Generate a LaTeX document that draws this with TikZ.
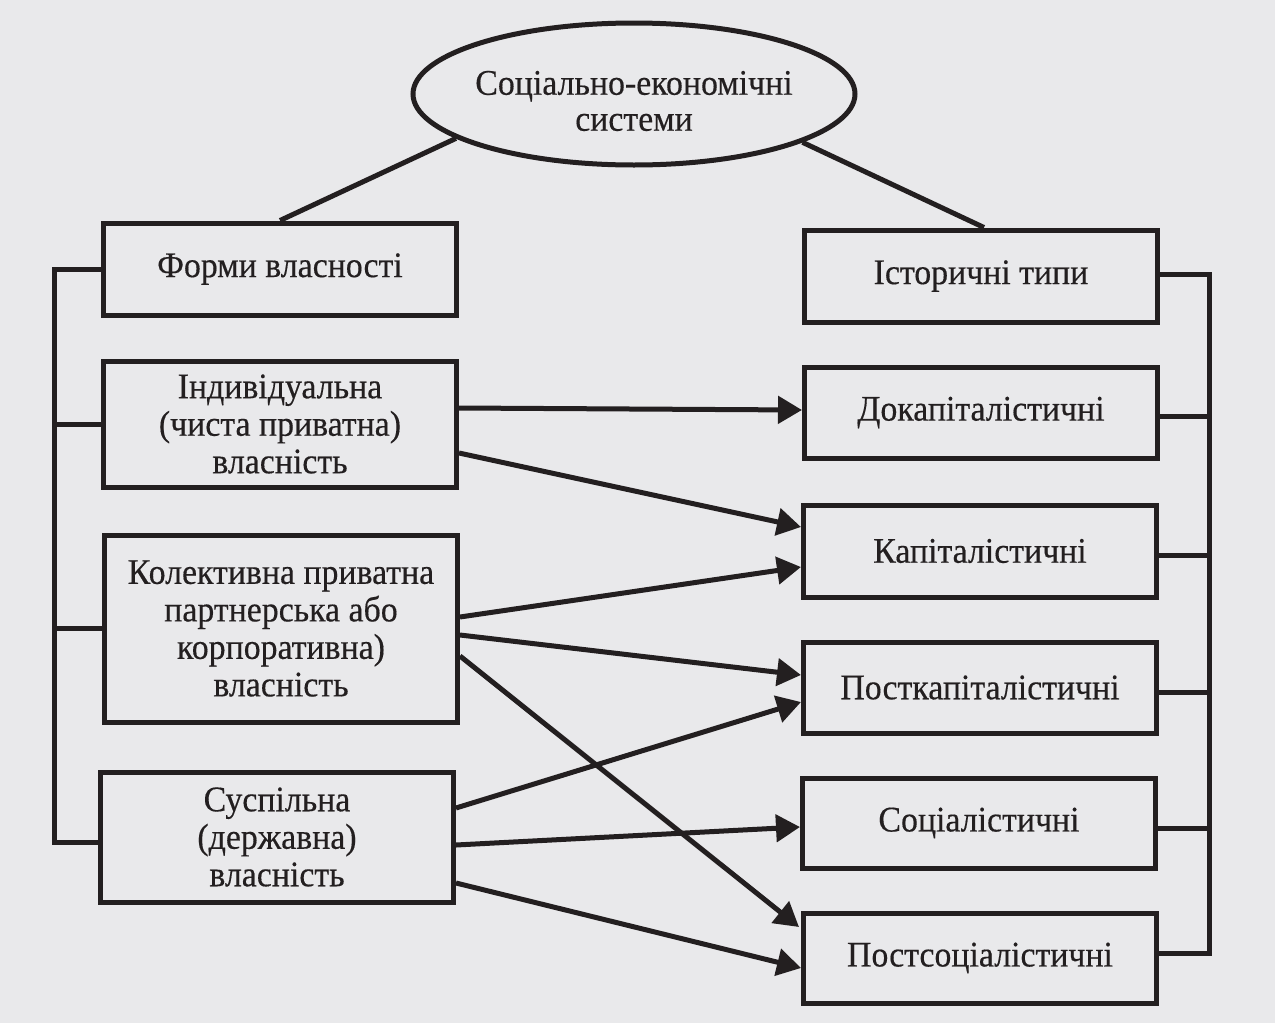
\documentclass[tikz,border=0pt]{standalone}
\usepackage{fontspec}
\setmainfont{Liberation Serif}[FakeBold=0.35,FakeStretch=0.94]
\usetikzlibrary{shapes.geometric,arrows.meta,calc}
\definecolor{ink}{RGB}{35,31,32}
\definecolor{paper}{RGB}{233,233,235}
\begin{document}
\begin{tikzpicture}[x=1pt,y=-1pt,
  box/.style={draw=ink, line width=5pt, inner sep=0pt, minimum width=353pt, align=center,
    text=ink, font=\fontsize{36}{37.5}\selectfont},
  lbl/.style={inner sep=0pt, align=center, text=ink, font=\fontsize{36}{36}\selectfont},
  link/.style={draw=ink, line width=5pt},
  bus/.style={draw=ink, line width=5pt, line join=miter},
  arr/.style={draw=ink, line width=5pt, -{Triangle[length=24pt,width=27pt]}}]
\fill[paper] (0,0) rectangle (1275,1023);
\useasboundingbox (0,0) rectangle (1275,1023);

% top ellipse
\node[ellipse, draw=ink, line width=5pt, minimum width=442pt, minimum height=142pt, inner sep=0pt] (ell) at (634,94) {};
\node[lbl] (etext) at (634,101) {Соціально-економічні\\системи};

% left column
\node[box, minimum height=92pt]  (forms) at (280,269) {Форми власності};
\node[box, minimum height=126pt] (ind)   at (280,424) {Індивідуальна\\(чиста приватна)\\власність};
\node[box, minimum height=187pt] (kol)   at (281,628.5) {Колективна приватна\\партнерська або\\корпоративна)\\власність};
\node[box, minimum height=130pt] (sus)   at (277,837) {Суспільна\\(державна)\\власність};

% right column
\node[box, minimum height=92pt] (ist)  at (981,276)   {Історичні типи};
\node[box, minimum height=91pt] (dok)  at (981,412.5) {Докапіталістичні};
\node[box, minimum height=92pt] (kap)  at (980,551)   {Капіталістичні};
\node[box, minimum height=91pt] (pkap) at (980,687.5) {Посткапіталістичні};
\node[box, minimum height=90pt] (soc)  at (979,823)   {Соціалістичні};
\node[box, minimum height=90pt] (psoc) at (980,958)   {Постсоціалістичні};

% ellipse links
\draw[link] (ell.194) -- (forms.north);
\draw[link] (ell.344) -- ($(ist.north)+(3,0)$);

% left bus
\coordinate (lb) at (54,0);
\draw[bus] (forms.west) -- (forms.west -| lb) -- (lb |- {$(sus.west)+(0,5)$}) -- ($(sus.west)+(0,5)$);
\draw[bus] (ind.west) -- (ind.west -| lb);
\draw[bus] (kol.west) -- (kol.west -| lb);

% right bus
\coordinate (rb) at (1209,0);
\draw[bus] ($(ist.east)+(0,-2)$) -- (rb |- {$(ist.east)+(0,-2)$}) -- (rb |- {$(psoc.east)+(0,-5)$}) -- ($(psoc.east)+(0,-5)$);
\draw[bus] ($(dok.east)+(0,4)$) -- (rb |- {$(dok.east)+(0,4)$});
\draw[bus] ($(kap.east)+(0,4)$) -- (rb |- {$(kap.east)+(0,4)$});
\draw[bus] ($(pkap.east)+(0,5)$) -- (rb |- {$(pkap.east)+(0,5)$});
\draw[bus] ($(soc.east)+(0,5)$) -- (rb |- {$(soc.east)+(0,5)$});

% arrows
\draw[arr] ($(ind.east)+(0,-16)$) -- ($(dok.west)+(0,-2.5)$);
\draw[arr] ($(ind.east)+(0,29)$) -- ($(kap.west)+(0,-24)$);
\draw[arr] ($(kol.east)+(0,-11.5)$) -- ($(kap.west)+(0,16)$);
\draw[arr] ($(kol.east)+(0,6.5)$) -- ($(pkap.west)+(0,-12.5)$);
\draw[arr] ($(kol.east)+(0,27.5)$) -- ($(psoc.west)+(-2,-31)$);
\draw[arr] ($(sus.east)+(0,-29)$) -- ($(pkap.west)+(0,14.5)$);
\draw[arr] ($(sus.east)+(0,8)$) -- ($(soc.west)+(0,4)$);
\draw[arr] ($(sus.east)+(0,46)$) -- ($(psoc.west)+(0,10)$);
\end{tikzpicture}
\end{document}
